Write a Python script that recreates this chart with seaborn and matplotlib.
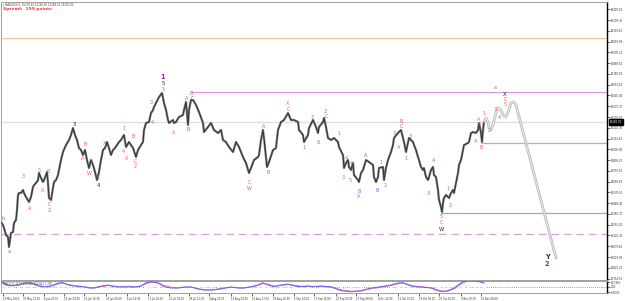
import numpy as np
import pandas as pd
import matplotlib
matplotlib.use("Agg")
import matplotlib.pyplot as plt
import seaborn as sns

# ---------------- data ----------------
# H4 price path (bar index, close)
bars = [0, 2, 3, 5, 7, 8, 9, 10, 12, 13,
        15, 16, 17, 18, 20, 22, 23, 25, 28, 30,
        32, 33, 35, 37, 38, 40, 42, 43, 46, 47,
        48, 50, 52, 53, 55, 57, 58, 60, 62, 65,
        68, 70, 72, 74, 76, 78, 80, 82, 84, 86,
        88, 90, 92, 94, 96, 98, 100, 102, 104, 106,
        108, 110, 112, 114, 116, 118, 120, 123, 125, 128,
        132, 135, 137, 140, 142, 143, 145, 148, 150, 152,
        153, 155, 158, 161, 163, 165, 167, 168, 172, 173,
        175, 178, 182, 183, 185, 187, 188, 190, 192, 195,
        198, 202, 203, 207, 210, 213, 217, 220, 222, 225,
        228, 232, 235, 238, 242, 245, 248, 250, 253, 257,
        258, 260, 262, 263, 265, 266, 268, 272, 275, 277,
        280, 283, 287, 290, 293, 297, 298, 302, 303, 307,
        308, 312, 315, 317, 318, 322, 323, 325, 327, 330,
        333, 337, 338, 342, 343, 345, 347, 348, 350, 352,
        353, 357, 358, 360, 362, 365, 368, 372, 373, 375,
        377, 378, 382, 383, 385, 387, 390, 392, 393, 397,
        400, 403, 405, 408, 412, 413, 415, 417, 418, 420,
        422, 423, 425, 427, 428, 430, 432, 433, 435, 437,
        438, 440, 441, 442, 443, 445, 447, 448, 450, 452,
        453, 455, 457, 458, 460, 462, 463, 467, 468, 470,
        472, 475, 477, 478, 480, 481, 482, 483]
prices = [14280, 14250, 14220, 14150, 14130, 14030, 14100, 14170, 14180, 14270,
          14300, 14400, 14550, 14570, 14570, 14600, 14570, 14530, 14480, 14530,
          14630, 14650, 14670, 14700, 14770, 14720, 14680, 14700, 14780, 14670,
          14520, 14500, 14620, 14680, 14700, 14750, 14800, 14900, 14980, 15050,
          15100, 15150, 15220, 15150, 15100, 15020, 15000, 14950, 15000, 14900,
          14820, 14900, 14850, 14780, 14700, 14780, 14900, 15000, 15020, 15080,
          15020, 14950, 15000, 15020, 15050, 15080, 15100, 15150, 15030, 15080,
          15020, 14930, 15000, 15050, 15080, 15200, 15270, 15280, 15370, 15400,
          15430, 15470, 15530, 15570, 15470, 15400, 15300, 15270, 15300, 15270,
          15280, 15330, 15350, 15400, 15480, 15250, 15400, 15500, 15500, 15450,
          15380, 15270, 15180, 15230, 15270, 15200, 15170, 15200, 15100, 15080,
          15030, 14980, 15080, 15030, 14930, 14870, 14770, 14820, 14900, 14930,
          14950, 15100, 15200, 15120, 14930, 14830, 14880, 15000, 15020, 15200,
          15280, 15300, 15370, 15300, 15300, 15280, 15200, 15150, 15080, 15150,
          15220, 15300, 15230, 15170, 15230, 15280, 15320, 15230, 15120, 15100,
          15120, 15080, 15030, 14950, 14820, 14870, 14900, 14830, 14800, 14870,
          14750, 14700, 14680, 14770, 14800, 14900, 14880, 14850, 14730, 14680,
          14730, 14820, 14830, 14700, 14820, 14900, 14980, 15050, 15120, 15170,
          15200, 15080, 14980, 15120, 15080, 15050, 15000, 14930, 14900, 14830,
          14800, 14820, 14730, 14700, 14730, 14800, 14830, 14750, 14730, 14600,
          14500, 14430, 14380, 14470, 14520, 14550, 14530, 14520, 14570, 14600,
          14570, 14670, 14770, 14850, 14900, 15000, 15050, 15070, 15080, 15170,
          15180, 15170, 15200, 15270, 15170, 15080, 15200, 15280]
current_price = 15280

# projected path (light grey drawing)
proj_bars = [483, 485, 487, 488, 490, 492, 495, 497, 500, 502, 505, 507, 510, 513, 515, 555]
proj_prices = [15280, 15320, 15280, 15220, 15200, 15250, 15370, 15420, 15400, 15350,
               15330, 15380, 15470, 15480, 15450, 13920]

# horizontal levels
level_prices = [16120, 15580, 15280, 15070, 14370, 14160]
level_start = [0, 190, 0, 480, 440, 0]

# wave labels
wave_text = ["b", "a", "3", "4", "5", "A", "B", "C", "2", "3",
             "A", "B", "W", "C", "4", "X", "1", "4", "A", "B",
             "C", "2", "3", "4", "1", "5", "5", "A", "A", "B",
             "B", "C", "C", "W", "A", "B", "X", "C", "1", "3",
             "B", "2", "C", "1", "4", "3", "4", "5", "B", "A",
             "A", "B", "1", "2", "3", "4", "B", "C", "1", "3",
             "4", "3", "5", "C", "W", "1", "2", "4", "A", "5",
             "B", "1", "2", "3", "4", "5", "C", "X", "a", "Y", "2"]
wave_bar = [2, 8, 22, 28, 38, 42, 47, 48, 48, 73,
            82, 84, 88, 97, 97, 104, 123, 122, 126, 132,
            134, 134, 150, 151, 162, 162, 162, 173, 186, 187,
            190, 191, 248, 248, 263, 267, 287, 287, 303, 311,
            317, 324, 325, 338, 345, 342, 350, 349, 358, 358,
            365, 376, 380, 384, 393, 397, 400, 400, 405, 409,
            432, 427, 440, 440, 440, 447, 449, 474, 478, 478,
            480, 483, 488, 494, 498, 504, 504, 504, 494, 546, 546]
wave_price = [14320, 13990, 14740, 14420, 14800, 14600, 14790, 14460, 14400, 15260,
              14920, 15060, 14770, 14730, 14650, 15070, 15220, 14990, 14920, 15140,
              14890, 14840, 15480, 15280, 15730, 15670, 15610, 15180, 15520, 15210,
              15570, 15520, 14680, 14620, 15240, 14780, 15470, 15410, 15030, 15330,
              15080, 15390, 15340, 15170, 14920, 14730, 14870, 14700, 14590, 14540,
              14950, 14600, 14880, 14650, 15170, 15030, 15290, 15240, 14920, 15140,
              14900, 14570, 14340, 14280, 14210, 14620, 14450, 15090, 15310, 15260,
              15030, 15370, 15200, 15410, 15330, 15460, 15510, 15560, 15630, 13930, 13860]
wave_kind = ["b", "b", "r", "r", "r", "r", "r", "r", "r", "k",
             "r", "r", "r", "r", "k", "r", "r", "r", "r", "r",
             "r", "r", "r", "r", "P", "k", "r", "r", "b", "b",
             "r", "b", "r", "r", "r", "r", "r", "r", "b", "g",
             "g", "b", "g", "g", "g", "g", "b", "g", "b", "r",
             "b", "b", "g", "g", "g", "g", "r", "b", "b", "b",
             "b", "b", "b", "r", "k", "r", "r", "r", "r", "r",
             "r", "r", "r", "r", "r", "r", "r", "k", "r", "K", "P"]

# oscillator sub-window
ind_bars = [0, 5, 10, 17, 23, 30, 37, 43, 50, 57,
            62, 67, 73, 82, 88, 93, 100, 107, 113, 120,
            127, 133, 140, 145, 150, 157, 163, 170, 177, 183,
            190, 197, 203, 210, 217, 223, 230, 237, 243, 250,
            257, 262, 267, 273, 280, 287, 293, 300, 307, 313,
            320, 330, 340, 350, 360, 370, 380, 390, 397, 402,
            407, 413, 420, 430, 437, 442, 447, 453, 457, 462,
            467, 473, 478, 483]
ind_main = [212, 80, 40, 80, 160, 160, 40, 0, 40, 160,
            172, 80, 40, 12, -40, -40, 40, 80, 12, 0,
            12, 0, 40, 172, 212, 160, 12, -40, -40, 0,
            0, -80, -120, -120, -80, -40, 0, -40, -40, 12,
            80, 172, 80, 12, 80, 120, 40, 12, 40, 12,
            40, 0, -148, -188, -148, -40, 12, 80, 160, 172,
            80, 12, 0, -40, -148, -188, -148, -40, 80, 212,
            250, 250, 212, 160]
ind_signal = [190, 120, 60, 60, 130, 160, 80, 20, 30, 120,
              160, 110, 60, 20, -20, -40, 10, 60, 40, 10,
              10, 0, 30, 130, 190, 180, 60, -10, -40, -10,
              0, -60, -110, -120, -100, -60, -10, -30, -40, 0,
              60, 140, 110, 40, 60, 100, 70, 30, 30, 20,
              30, 10, -110, -170, -160, -70, -10, 60, 130, 160,
              110, 40, 10, -30, -120, -170, -160, -80, 30, 170,
              240, 250, 230, 180]
ind_hist = [22, -40, -20, 20, 30, 0, -40, -20, 10, 40,
            12, -30, -20, -8, -20, 0, 30, 20, -28, -10,
            2, 0, 10, 42, 22, -20, -48, -30, 0, 10,
            0, -20, -10, 0, 20, 20, 10, -10, 0, 12,
            20, 32, -30, -28, 20, 20, -30, -18, 10, -8,
            10, -10, -38, -18, 12, 30, 22, 20, 30, 12,
            -30, -28, -10, -10, -28, -18, 12, 40, 50, 42,
            10, 0, -18, -20]

# time axis labels
xtick_bars = [2, 22, 43, 63, 83, 105, 126, 147, 168, 188, 208, 230,
              251, 272, 293, 313, 335, 355, 377, 397, 418, 438, 460, 480]
xtick_labels = ["23 May 2023", "30 May 12:00", "6 Jun 20:00", "14 Jun 04:00",
                "21 Jun 16:00", "29 Jun 00:00", "6 Jul 12:00", "13 Jul 20:00",
                "21 Jul 04:00", "28 Jul 12:00", "4 Aug 20:00", "14 Aug 04:00",
                "21 Aug 12:00", "28 Aug 20:00", "5 Sep 04:00", "12 Sep 16:00",
                "20 Sep 00:00", "27 Sep 08:00", "4 Oct 16:00", "12 Oct 00:00",
                "19 Oct 08:00", "26 Oct 16:00", "3 Nov 00:00", "10 Nov 08:00"]
price_tick_top = 16407.0
price_tick_step = 107.7
ind_tick_vals = [200, 0, -200]
ind_tick_labels = ["197.862", "0.00", "-180.03"]

# ---------------- style ----------------
sns.set_style("white")
plt.rcParams['font.family'] = ['DejaVu Sans']

W, H = 625, 301
fig = plt.figure(figsize=(W / 100, H / 100), dpi=100)
fig.patch.set_facecolor('white')


def px_box(x0, y0, x1, y1):
    return [x0 / W, 1 - y1 / H, (x1 - x0) / W, (y1 - y0) / H]


ax = fig.add_axes(px_box(1, 2, 607, 280))
ax2 = fig.add_axes(px_box(1, 281, 607, 293))

XMIN, XMAX = 0, 606
ax.set_xlim(XMIN, XMAX)
ax.set_ylim(13700, 16480)

level_colors = ['#f6c79b', '#d89ce0', '#dedede', '#cfa4a4', '#a8a8a8', '#d89ce0']
level_styles = ['-', '-', '-', '-', '-', (0, (6, 4))]
for lv, st, c, ls in zip(level_prices, level_start, level_colors, level_styles):
    ax.hlines(lv, st, XMAX, colors=c, linestyles=ls, lw=0.9, zorder=1)

df = pd.DataFrame({'bar': bars, 'price': prices})
sns.lineplot(data=df, x='bar', y='price', ax=ax, color='#7a7a7a', lw=1.6,
             sort=False, estimator=None, zorder=2)
sns.lineplot(data=df, x='bar', y='price', ax=ax, color='#333333', lw=0.7,
             sort=False, estimator=None, zorder=3)

dp = pd.DataFrame({'bar': proj_bars, 'price': proj_prices})
sns.lineplot(data=dp, x='bar', y='price', ax=ax, color='#bdbdbd', lw=2.0,
             sort=False, estimator=None, zorder=2)
sns.lineplot(data=dp, x='bar', y='price', ax=ax, color='#eeeeee', lw=0.7,
             sort=False, estimator=None, zorder=3)
ax.annotate('', xy=(proj_bars[-1], proj_prices[-1]),
            xytext=(proj_bars[-2], proj_prices[-2]),
            arrowprops=dict(arrowstyle='-|>', color='#b4b4b4', lw=0.5,
                            mutation_scale=4, shrinkA=0, shrinkB=0), zorder=2)

kind_color = {'r': '#f25a52', 'b': '#6a6aff', 'g': '#4caf50', 'k': '#222222',
              'P': '#8e2a9e', 'K': '#333333'}
kind_size = {'r': 3.5, 'b': 3.5, 'g': 3.5, 'k': 3.8, 'P': 4.8, 'K': 4.8}
for t, xb, yp, k in zip(wave_text, wave_bar, wave_price, wave_kind):
    ax.text(xb, yp, t, color=kind_color[k], fontsize=kind_size[k],
            ha='center', va='center', zorder=5,
            fontweight='bold' if k in ('P', 'K') else 'normal')

ax.set_xlabel('')
ax.set_ylabel('')
ax.set_xticks([])
ax.yaxis.tick_right()
yt = [price_tick_top - price_tick_step * k for k in range(26)]
ax.set_yticks(yt)
ax.set_yticklabels([f"{v:.2f}" for v in yt])
ax.tick_params(axis='y', labelsize=1.9, length=2, width=0.5, pad=1.0,
               colors='#333333', direction='out')

ax.annotate(f"{current_price:.2f}", xy=(1.0, current_price),
            xycoords=('axes fraction', 'data'), xytext=(2.3, 0),
            textcoords='offset points', fontsize=1.9, color='white',
            va='center', ha='left',
            bbox=dict(boxstyle='square,pad=0.3', fc='black', ec='black'),
            annotation_clip=False)

for sp in ['top', 'left', 'bottom']:
    ax.spines[sp].set_color('#a0a0a0')
    ax.spines[sp].set_linewidth(0.7)
ax.spines['right'].set_color('black')
ax.spines['right'].set_linewidth(1.0)

# ---------------- oscillator ----------------
ax2.set_xlim(XMIN, XMAX)
ax2.set_ylim(-240, 240)
ax2.axhline(0, color='#777777', lw=0.6, ls=(0, (1, 1.5)), zorder=1)
ax2.bar(ind_bars, ind_hist, width=2.5, color='#3daa3d', zorder=2)
di = pd.DataFrame({'bar': ind_bars, 'main': ind_main, 'signal': ind_signal})
sns.lineplot(data=di, x='bar', y='signal', ax=ax2, color='#f06aa0', lw=0.7,
             estimator=None, zorder=3)
sns.lineplot(data=di, x='bar', y='main', ax=ax2, color='#6060ff', lw=0.7,
             estimator=None, zorder=4)
ax2.set_xlabel('')
ax2.set_ylabel('')
ax2.yaxis.tick_right()
ax2.set_yticks(ind_tick_vals)
ax2.set_yticklabels(ind_tick_labels)
ax2.tick_params(axis='y', labelsize=1.8, length=2, width=0.5, pad=1.0,
                colors='#333333')
ax2.set_xticks(xtick_bars)
ax2.set_xticklabels(xtick_labels)
ax2.tick_params(axis='x', labelsize=1.8, length=2, width=0.5, pad=1.2,
                colors='#333333', direction='out', bottom=True)
for lbl in ax2.get_xticklabels():
    lbl.set_ha('left')
for sp in ['top', 'left', 'bottom']:
    ax2.spines[sp].set_color('#a0a0a0')
    ax2.spines[sp].set_linewidth(0.7)
ax2.spines['right'].set_color('black')
ax2.spines['right'].set_linewidth(1.0)

# ---------------- header texts ----------------
fig.text(3 / W, 1 - 4.5 / H, "\u25be NAS100,H4  15279.40 15296.85 15268.10 15280.00",
         fontsize=1.9, color='#444444', ha='left', va='center')
fig.text(3 / W, 1 - 9 / H, "Spread:  199 points", fontsize=3.2, color='#ff3030',
         fontweight='bold', ha='left', va='center')
fig.text(3 / W, 1 - 283.8 / H, "MACD(12,26,9) 197.862 157.841 7.298",
         fontsize=1.8, color='#444444', ha='left', va='center')

fig.savefig('out.png', dpi=100)
